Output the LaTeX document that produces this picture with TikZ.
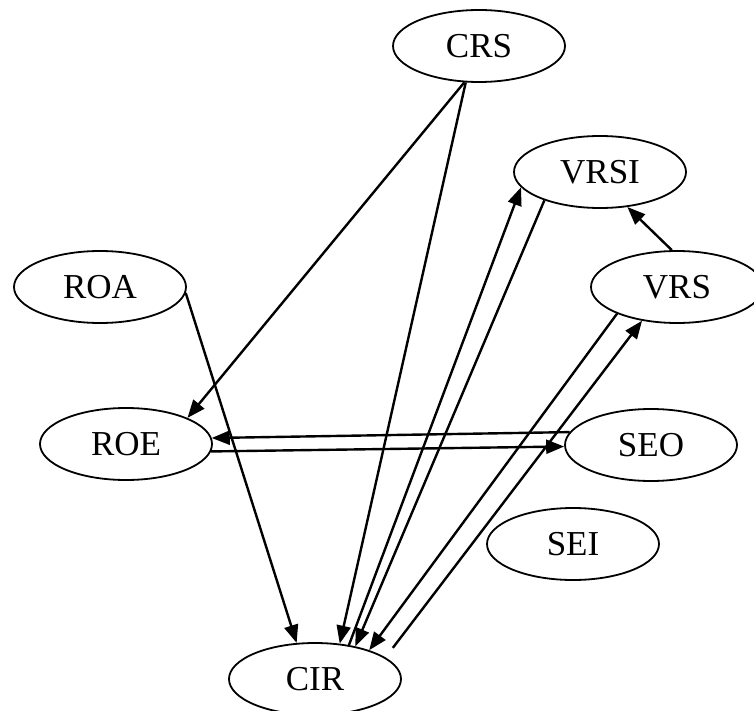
\documentclass[tikz,border=0pt]{standalone}
\usepackage{fontspec}
\setmainfont{Liberation Serif}
\usetikzlibrary{shapes.geometric,arrows.meta}
\begin{document}
\begin{tikzpicture}[x=1pt,y=-1pt,
  state/.style={ellipse,draw,line width=1.8pt,minimum width=172pt,minimum height=72pt,inner sep=0pt,font=\fontsize{35}{40}\selectfont},
  edge/.style={line width=2.4pt,-{Triangle[length=18pt,width=14pt]}}]
\useasboundingbox (0,0) rectangle (754,711);
\node[state] (CRS) at (479,46) {CRS};
\node[state] (VRSI) at (600,172) {VRSI};
\node[state] (ROA) at (100,287) {ROA};
\node[state] (VRS) at (677,287) {VRS};
\node[state] (ROE) at (126,444) {ROE};
\node[state] (SEO) at (651,445) {SEO};
\node[state] (SEI) at (573,544) {SEI};
\node[state] (CIR) at (315,679) {CIR};
\draw[edge] (CRS.-112) -- (ROE.23);
\draw[edge] (CRS.-110) -- (CIR.55);
\draw[edge] (ROA.-4) -- (CIR.117);
\draw[edge] (CIR.45) -- (VRSI.191);
\draw[edge] (VRSI.207) -- (CIR.39);
\draw[edge] (VRS.98) -- (VRSI.-52);
\draw[edge] (VRS.204) -- (CIR.28);
\draw[edge,shorten <=12pt] (CIR.17) -- (VRS.224);
\draw[edge] (SEO.171) -- (ROE.4);
\draw[edge] (ROE.-5) -- (SEO.181);
\end{tikzpicture}
\end{document}
